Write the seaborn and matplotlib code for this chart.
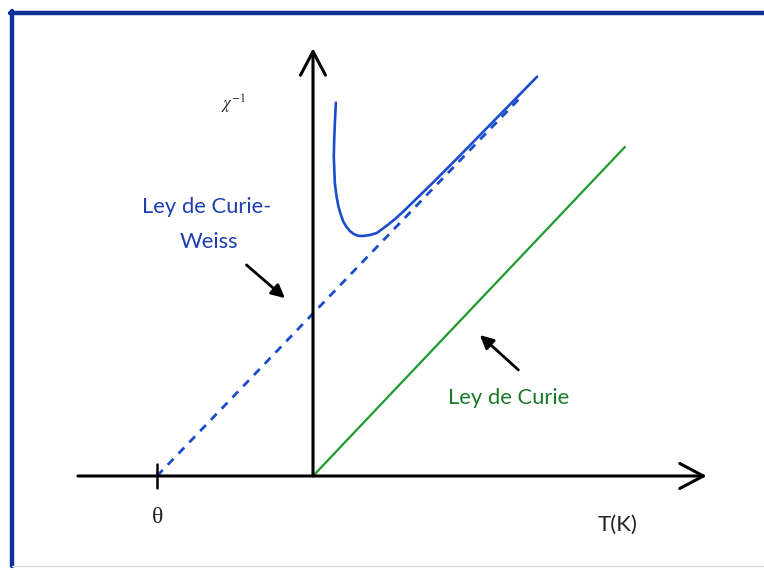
import matplotlib
matplotlib.use("Agg")
import matplotlib.pyplot as plt
from matplotlib.lines import Line2D
import numpy as np
import pandas as pd
import seaborn as sns

# data (arbitrary units, origin where the axes cross)
theta = -3.0
cw_T = [-3.0, 3.98]          # Curie-Weiss asymptote (dashed)
cw_Y = [0.0, 7.27]
curie_T = [0.0, 6.0]         # Curie law (green)
curie_Y = [0.0, 6.33]
curve_T = [0.44, 0.42, 0.408, 0.40, 0.42, 0.452, 0.49, 0.53, 0.58, 0.644,
           0.71, 0.79, 0.87, 0.96, 1.10, 1.23, 1.42, 1.58, 1.74, 2.00,
           2.31, 2.77, 3.21, 3.73, 4.31]
curve_Y = [7.18, 6.78, 6.46, 6.14, 5.63, 5.38, 5.18, 5.04, 4.90, 4.79,
           4.71, 4.65, 4.62, 4.615, 4.635, 4.675, 4.815, 4.943, 5.09, 5.343,
           5.645, 6.106, 6.555, 7.086, 7.68]

curve = pd.DataFrame({"T": curve_T, "chi_inv": curve_Y})
cw = pd.DataFrame({"T": cw_T, "chi_inv": cw_Y})
curie = pd.DataFrame({"T": curie_T, "chi_inv": curie_Y})

sns.set_style("white")
plt.rcParams['font.family'] = ['Lato', 'DejaVu Sans']

fig = plt.figure(figsize=(7.64, 5.70), dpi=100)
ax = fig.add_axes([0, 0, 1, 1])
ax.set_xlim(-6.019, 8.673)
ax.set_ylim(-1.808, 9.154)
ax.set_axis_off()

blue = "#1a4ccc"
green = "#1e9a2e"

sns.lineplot(data=cw, x="T", y="chi_inv", ax=ax, color=blue, lw=2.0,
             linestyle=(0, (3, 2.6)), sort=False, estimator=None)
sns.lineplot(data=curie, x="T", y="chi_inv", ax=ax, color=green, lw=1.6,
             sort=False, estimator=None)
sns.lineplot(data=curve, x="T", y="chi_inv", ax=ax, color=blue, lw=1.9,
             sort=False, estimator=None)
for ln in ax.lines:
    ln.set_solid_joinstyle("round")

# axes with open arrow heads
axis_style = dict(arrowstyle="->, head_length=1.7, head_width=0.9",
                  color="black", lw=2.2, shrinkA=0, shrinkB=0)
ax.annotate("", xy=(7.57, 0), xytext=(-4.52, 0), arrowprops=axis_style)
ax.annotate("", xy=(0, 8.225), xytext=(0, 0), arrowprops=axis_style)

# theta tick
ax.plot([theta, theta], [-0.23, 0.23], color="black", lw=1.8)

# pointer arrows
ptr = dict(arrowstyle="-|>, head_length=0.8, head_width=0.4",
           color="black", lw=2.0, shrinkA=0, shrinkB=0)
ax.annotate("", xy=(-0.54, 3.42), xytext=(-1.28, 4.06), arrowprops=ptr)
ax.annotate("", xy=(3.21, 2.71), xytext=(3.95, 2.04), arrowprops=ptr)

# labels
ax.text(-2.04, 5.17, "Ley de Curie-", color="#1f3fb0", fontsize=15.8,
        ha="center", va="center")
ax.text(-2.0, 4.50, "Weiss", color="#1f3fb0", fontsize=15.8,
        ha="center", va="center")
ax.text(3.77, 1.50, "Ley de Curie", color="#1b7a2a", fontsize=15.8,
        ha="center", va="center")
ax.text(5.865, -0.94, "T(K)", color="#222222", fontsize=16,
        ha="center", va="center")
ax.text(theta + 0.02, -0.79, "\u03b8", family=["Liberation Serif"],
        fontsize=17, ha="center", va="center", color="#222222")
ax.text(-1.52, 7.15, r"$\chi^{-1}$", fontsize=12, ha="center", va="center",
        color="#222222", math_fontfamily="stix")

# frame of the original slide
frame = "#10309a"
fig.add_artist(Line2D([10 / 764, 1], [1 - 13 / 570, 1 - 13 / 570],
                      transform=fig.transFigure, color=frame, lw=3.2))
fig.add_artist(Line2D([12 / 764, 12 / 764], [1 - 11 / 570, 1 - 566 / 570],
                      transform=fig.transFigure, color=frame, lw=3.2))
fig.add_artist(Line2D([12 / 764, 1], [1 - 566 / 570, 1 - 566 / 570],
                      transform=fig.transFigure, color="#dddddd", lw=1.0))

fig.savefig("out.png", dpi=100)
